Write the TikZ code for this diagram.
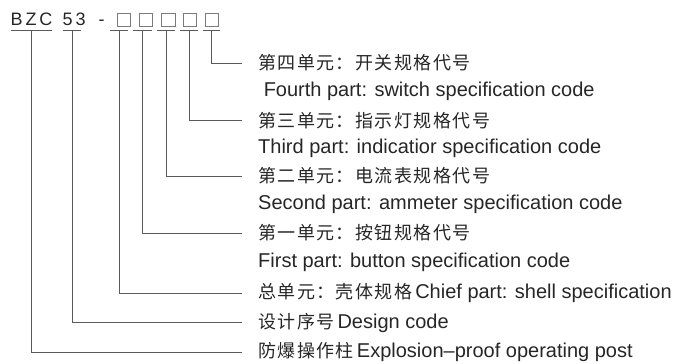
\documentclass[tikz,border=0pt]{standalone}
\usepackage{fontspec}
\setmainfont{Liberation Sans}
\newfontfamily\cjk[LetterSpace=8]{Noto Sans CJK SC}
\newfontfamily\codefont[LetterSpace=16]{Liberation Sans}
\definecolor{inkclr}{HTML}{262626}
\definecolor{ruleclr}{HTML}{5A5A5A}
\newcommand{\zh}[1]{{\cjk\fontsize{18}{21}\selectfont #1}}

\begin{document}
\begin{tikzpicture}[x=1pt, y=-1pt,
    rule/.style = {draw=ruleclr, line width=1pt},
    uslot/.style = {inner sep=0pt, minimum height=0pt, anchor=south},
    codetext/.style = {inner sep=0pt, anchor=base west, text=inkclr,
                font=\codefont\fontsize{18}{21}\selectfont},
    codebox/.style = {draw=ruleclr!80, line width=0.8pt, minimum width=13.5pt,
                minimum height=13pt, inner sep=0pt},
    desc/.style = {anchor=west, inner xsep=16pt, inner ysep=0pt, text=inkclr,
                font=\fontsize{20}{24}\selectfont}]
    \useasboundingbox (0,0) rectangle (678,364);
    % model code
    \node (bzc) [codetext] at (10.5,25) {BZC};
    \node (num) [codetext] at (62.5,25) {53};
    \node (dash) [codetext] at (98.5,25) {-};
    \node (b1) [codebox] at (124,19.5) {};
    \node (b2) [codebox] at (146,19.5) {};
    \node (b3) [codebox] at (168.5,19.5) {};
    \node (b4) [codebox] at (190,19.5) {};
    \node (b5) [codebox] at (212,19.5) {};
    % underline slots
    \node (u1) [uslot, minimum width=41pt] at (31.5,30) {};
    \node (u2) [uslot, minimum width=18pt] at (72,30) {};
    \node (u3) [uslot, minimum width=18pt] at (119,30) {};
    \node (u4) [uslot, minimum width=19pt] at (142.5,30) {};
    \node (u5) [uslot, minimum width=18pt] at (166,30) {};
    \node (u6) [uslot, minimum width=18pt] at (189,30) {};
    \node (u7) [uslot, minimum width=17pt] at (211.5,30) {};
    \foreach \u in {u1,u2,u3,u4,u5,u6,u7}
        \draw[rule] (\u.south west) -- (\u.south east);
    % descriptions
    \node (zh4) [desc] at (242,63) {\zh{第四单元：开关规格代号}};
    \node (en4) [desc] at (242,91.5) {~Fourth part: switch specification code};
    \node (zh3) [desc] at (242,120.5) {\zh{第三单元：指示灯规格代号}};
    \node (en3) [desc] at (242,148) {Third part: indicatior specification code};
    \node (zh2) [desc] at (242,176) {\zh{第二单元：电流表规格代号}};
    \node (en2) [desc] at (242,204.5) {Second part: ammeter specification code};
    \node (zh1) [desc] at (242,233) {\zh{第一单元：按钮规格代号}};
    \node (en1) [desc] at (242,262) {First part: button specification code};
    \node (chief) [desc] at (242,293) {\zh{总单元：壳体规格}\kern3pt Chief part: shell specification};
    \node (design) [desc] at (242,322.5) {\zh{设计序号}\kern3pt Design code};
    \node (post) [desc] at (242,352) {\zh{防爆操作柱}\kern3pt Explosion–proof operating post};
    % leaders
    \draw[rule] (u7.south) |- (zh4.west);
    \draw[rule] (u6.south) |- (zh3.west);
    \draw[rule] (u5.south) |- (zh2.west);
    \draw[rule] (u4.south) |- (zh1.west);
    \draw[rule] (u3.south) |- (chief.west);
    \draw[rule] (u2.south) |- (design.west);
    \draw[rule] (u1.south) |- (post.west);
\end{tikzpicture}
\end{document}
